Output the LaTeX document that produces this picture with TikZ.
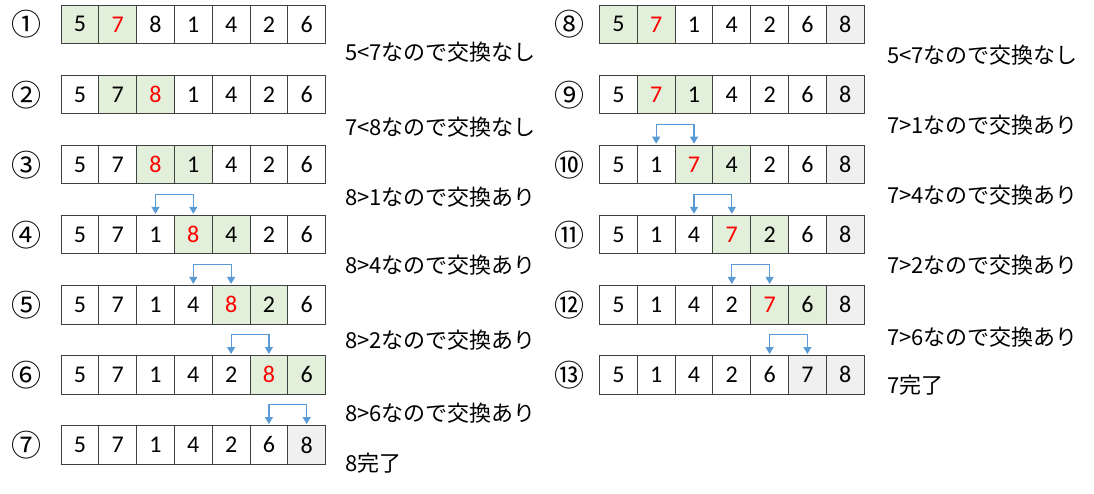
\documentclass[tikz,border=0pt]{standalone}
\usepackage{fontspec}
\setmainfont{Carlito}
\newfontfamily\cjk{Noto Sans CJK JP}
\usetikzlibrary{arrows.meta}
\definecolor{cgreen}{HTML}{E2EFDA}
\definecolor{cgray}{HTML}{F0F0F0}
\definecolor{cred}{HTML}{FF0000}
\definecolor{cblue}{HTML}{5B9BD5}
\definecolor{cline}{HTML}{404040}
\tikzset{
 cell/.style={draw=cline, line width=0.9pt, minimum width=37.8pt, minimum height=38.6pt, inner sep=0pt, outer sep=0pt, font=\fontsize{24}{24}\selectfont},
 cs-N/.style={},
 cs-G/.style={fill=cgreen},
 cs-R/.style={fill=cgreen,text=cred},
 cs-Y/.style={fill=cgray},
 num/.style={font=\cjk\fontsize{30}{30}\selectfont, inner sep=0pt},
 lbl/.style={font=\cjk\fontsize{22}{22}\selectfont, inner sep=0pt, anchor=base west},
 swp/.style={draw=cblue, line width=1.2pt, {Triangle[width=8pt,length=7pt]}-{Triangle[width=8pt,length=7pt]}},
}
\newcommand\cellrow[4]{%
 \foreach[count=\i] \v/\s in {#4}{%
  \edef\tmpcell{\noexpand\node[cell,cs-\s] (#1-\i) at ({#2+37.8*(\i-0.5)},{#3+19.3}) {\v};}%
  \tmpcell}}
\begin{document}
\begin{tikzpicture}[x=1pt,y=-1pt]
\path[use as bounding box, fill=white] (0,0) rectangle (1094,493);
% left column
\cellrow{L1}{61}{5}{5/G,7/R,8/N,1/N,4/N,2/N,6/N}
\cellrow{L2}{61}{75.1}{5/N,7/G,8/R,1/N,4/N,2/N,6/N}
\cellrow{L3}{61}{145.2}{5/N,7/N,8/R,1/G,4/N,2/N,6/N}
\cellrow{L4}{61}{215.3}{5/N,7/N,1/N,8/R,4/G,2/N,6/N}
\cellrow{L5}{61}{285.4}{5/N,7/N,1/N,4/N,8/R,2/G,6/N}
\cellrow{L6}{61}{355.5}{5/N,7/N,1/N,4/N,2/N,8/R,6/G}
\cellrow{L7}{61}{425.6}{5/N,7/N,1/N,4/N,2/N,6/N,8/Y}
% right column
\cellrow{R8}{599.5}{5}{5/G,7/R,1/N,4/N,2/N,6/N,8/Y}
\cellrow{R9}{599.5}{75.1}{5/N,7/R,1/G,4/N,2/N,6/N,8/Y}
\cellrow{R10}{599.5}{145.2}{5/N,1/N,7/R,4/G,2/N,6/N,8/Y}
\cellrow{R11}{599.5}{215.3}{5/N,1/N,4/N,7/R,2/G,6/N,8/Y}
\cellrow{R12}{599.5}{285.4}{5/N,1/N,4/N,2/N,7/R,6/G,8/Y}
\cellrow{R13}{599.5}{355.5}{5/N,1/N,4/N,2/N,6/N,7/Y,8/Y}
% circled numbers
\node[num] (n1) at (27,24.5) {①};
\node[num] (n2) at (27,94.6) {②};
\node[num] (n3) at (27,164.7) {③};
\node[num] (n4) at (27,234.8) {④};
\node[num] (n5) at (27,304.9) {⑤};
\node[num] (n6) at (27,375) {⑥};
\node[num] (n7) at (27,445.1) {⑦};
\node[num] (n8) at (569,24.5) {⑧};
\node[num] (n9) at (569,94.6) {⑨};
\node[num] (n10) at (569,164.7) {⑩};
\node[num] (n11) at (569,234.8) {⑪};
\node[num] (n12) at (569,304.9) {⑫};
\node[num] (n13) at (569,375) {⑬};
% labels
\node[lbl] (t1) at (345,60) {5<7なので交換なし};
\node[lbl] (t2) at (345,135) {7<8なので交換なし};
\node[lbl] (t3) at (345,205) {8>1なので交換あり};
\node[lbl] (t4) at (345,273) {8>4なので交換あり};
\node[lbl] (t5) at (345,348) {8>2なので交換あり};
\node[lbl] (t6) at (345,421) {8>6なので交換あり};
\node[lbl] (t7) at (345,471) {8完了};
\node[lbl] (t8) at (887,63) {5<7なので交換なし};
\node[lbl] (t9) at (887,133) {7>1なので交換あり};
\node[lbl] (t10) at (887,203) {7>4なので交換あり};
\node[lbl] (t11) at (887,273) {7>2なので交換あり};
\node[lbl] (t12) at (887,345) {7>6なので交換あり};
\node[lbl] (t13) at (887,393) {7完了};
% swap arrows
\draw[swp] ([yshift=1.5pt]L4-3.north) -- ++(0,-19.5) -| ([yshift=1.5pt]L4-4.north);
\draw[swp] ([yshift=1.5pt]L5-4.north) -- ++(0,-19.5) -| ([yshift=1.5pt]L5-5.north);
\draw[swp] ([yshift=1.5pt]L6-5.north) -- ++(0,-19.5) -| ([yshift=1.5pt]L6-6.north);
\draw[swp] ([yshift=1.5pt]L7-6.north) -- ++(0,-19.5) -| ([yshift=1.5pt]L7-7.north);
\draw[swp] ([yshift=1.5pt]R10-2.north) -- ++(0,-19.5) -| ([yshift=1.5pt]R10-3.north);
\draw[swp] ([yshift=1.5pt]R11-3.north) -- ++(0,-19.5) -| ([yshift=1.5pt]R11-4.north);
\draw[swp] ([yshift=1.5pt]R12-4.north) -- ++(0,-19.5) -| ([yshift=1.5pt]R12-5.north);
\draw[swp] ([yshift=1.5pt]R13-5.north) -- ++(0,-19.5) -| ([yshift=1.5pt]R13-6.north);
\end{tikzpicture}
\end{document}
